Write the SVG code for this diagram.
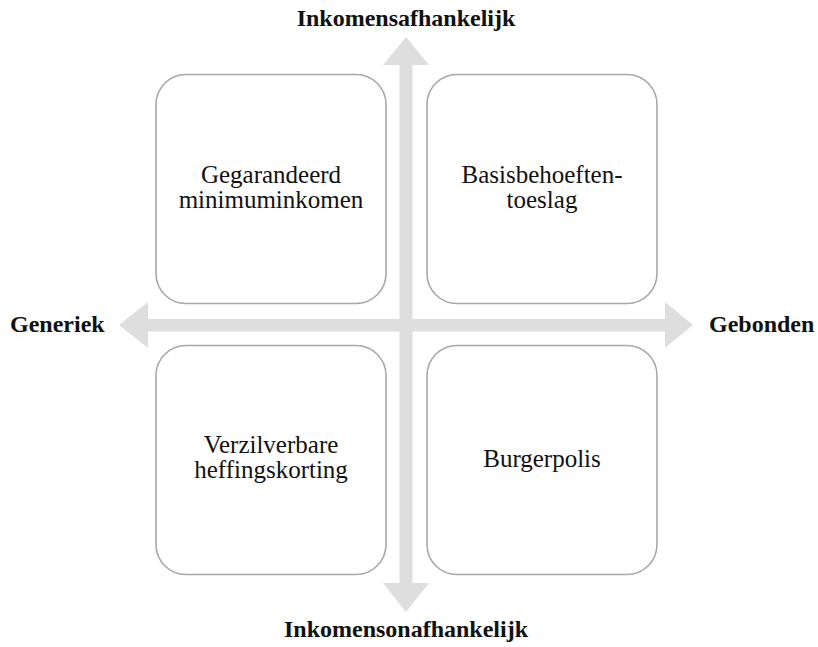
<svg xmlns="http://www.w3.org/2000/svg" width="818" height="647" viewBox="0 0 818 647">
<style>
.box{fill:#fff;stroke:#a8a8a8;stroke-width:1.6}
.arr{fill:#dedede}
.t{font-family:"Liberation Serif","Times New Roman",serif;font-size:25px;fill:#111;text-anchor:middle}
.b{font-family:"Liberation Serif","Times New Roman",serif;font-size:24px;font-weight:bold;fill:#111}
</style>
<rect width="818" height="647" fill="#fff"/>
<g id="connectors">
<rect class="arr" x="399.5" y="64" width="13" height="520"/>
<polygon class="arr" points="406,37 429,65 383,65"/>
<polygon class="arr" points="383,583 429,583 406,612"/>
<rect class="arr" x="147" y="319" width="519" height="12.5"/>
<polygon class="arr" points="119,325 148,302 148,348"/>
<polygon class="arr" points="693,325 665,302 665,348"/>
</g>
<g id="label-top"><text class="b" x="406" y="26" text-anchor="middle">Inkomensafhankelijk</text></g>
<g id="label-bottom"><text class="b" x="406" y="637" text-anchor="middle">Inkomensonafhankelijk</text></g>
<g id="label-left"><text class="b" x="10" y="332">Generiek</text></g>
<g id="label-right"><text class="b" x="709" y="332">Gebonden</text></g>
<g id="node-gmi">
<rect class="box" x="156" y="74.5" width="230" height="229" rx="30"/>
<text class="t" x="271" y="183">Gegarandeerd</text>
<text class="t" x="271" y="208">minimuminkomen</text>
</g>
<g id="node-basis">
<rect class="box" x="427" y="74.5" width="230" height="229" rx="30"/>
<text class="t" x="542" y="183">Basisbehoeften-</text>
<text class="t" x="542" y="208">toeslag</text>
</g>
<g id="node-heffing">
<rect class="box" x="156" y="345.5" width="230" height="229" rx="30"/>
<text class="t" x="271" y="453">Verzilverbare</text>
<text class="t" x="271" y="478">heffingskorting</text>
</g>
<g id="node-burger">
<rect class="box" x="427" y="345.5" width="230" height="229" rx="30"/>
<text class="t" x="542" y="467">Burgerpolis</text>
</g>
</svg>
